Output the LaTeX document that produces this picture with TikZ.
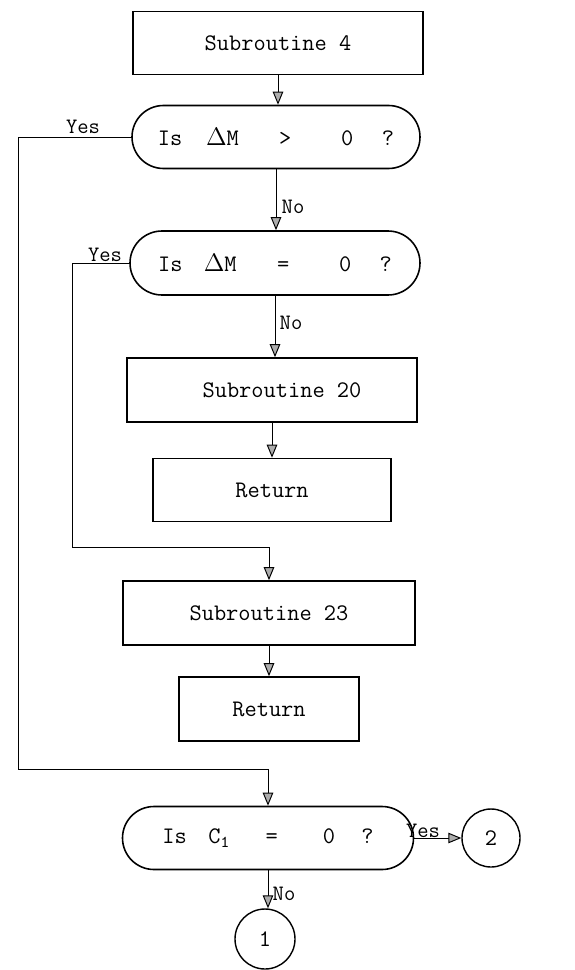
\documentclass[tikz,border=0pt]{standalone}
\usepackage{fontspec}
\usepackage{tikz}
\usetikzlibrary{arrows.meta,shapes.misc}

\tikzset{
  box/.style={draw, line width=0.9pt, minimum width=5.8cm, minimum height=1.26cm,
    inner sep=0pt, font=\ttfamily\fontsize{13.5}{15}\selectfont},
  ask/.style={box, rounded rectangle},
  joint/.style={draw, circle, line width=0.8pt, minimum size=1.16cm, inner sep=0pt,
    font=\ttfamily\fontsize{13.5}{15}\selectfont},
  flow/.style={line width=0.55pt, -{Triangle[length=0.26cm,width=0.21cm,fill=gray!65]}},
  lbl/.style={font=\ttfamily\fontsize{12.5}{14}\selectfont, inner sep=1pt}
}

\begin{document}
\begin{tikzpicture}
  \useasboundingbox (0,0) rectangle (11.48,-19.4);

  % boxes
  \node[box] (sub4) at (5.56,-0.86) {Subroutine 4};
  \node[ask, minimum width=5.76cm] (gt) at (5.52,-2.74)
    {Is\hspace{1em}$\Delta$M\hspace{1.7em}>\hspace{2.1em}0\hspace{1.2em}?};
  \node[ask, minimum height=1.28cm] (eq) at (5.5,-5.26)
    {Is\hspace{0.9em}$\Delta$M\hspace{1.7em}=\hspace{2.1em}0\hspace{1.2em}?};
  \node[box, minimum height=1.28cm] (sub20) at (5.44,-7.8) {\hspace{0.4cm}Subroutine 20};
  \node[box, minimum width=4.76cm] (ret1) at (5.44,-9.8) {Return\hspace{0.2cm}};
  \node[box, minimum width=5.84cm, minimum height=1.28cm] (sub23) at (5.38,-12.26) {Subroutine 23};
  \node[box, minimum width=3.6cm, minimum height=1.28cm] (ret2) at (5.38,-14.18) {Return};
  \node[ask, minimum width=5.82cm] (cz) at (5.36,-16.76)
    {Is\hspace{0.9em}$\mathtt{C_1}$\hspace{1.5em}=\hspace{1.9em}0\hspace{1.1em}?\hspace{1.2em}};
  \node[joint] (two) at (9.82,-16.76) {2};
  \node[joint, minimum size=1.2cm] (one) at (5.3,-18.78) {1};

  % bends
  \coordinate (outer) at (0.36,-15.38);
  \coordinate (inner) at (1.44,-10.94);

  % connectors
  \draw[flow] (sub4.south) -- (sub4.south |- gt.north);
  \draw[flow] (gt.south) -- (gt.south |- eq.north);
  \draw[flow] (eq.south) -- (eq.south |- sub20.north);
  \draw[flow] (sub20.south) -- (sub20.south |- ret1.north);
  \draw[flow] (sub23.south) -- (sub23.south |- ret2.north);
  \draw[flow] (gt.west) -| (outer) -| (cz.north);
  \draw[flow] (eq.west) -| (inner) -| (sub23.north);
  \draw[flow] (cz.east) -- (two.west);
  \draw[flow] (cz.south) -- (cz.south |- one.north);

  % labels
  \node[lbl] (yes1) at (1.66,-2.54) {Yes};
  \node[lbl] (yes2) at (2.1,-5.1) {Yes};
  \node[lbl] (yes3) at (8.46,-16.62) {Yes};
  \node[lbl] (no1) at (5.86,-4.14) {No};
  \node[lbl] (no2) at (5.82,-6.46) {No};
  \node[lbl] (no3) at (5.68,-17.88) {No};
\end{tikzpicture}
\end{document}
